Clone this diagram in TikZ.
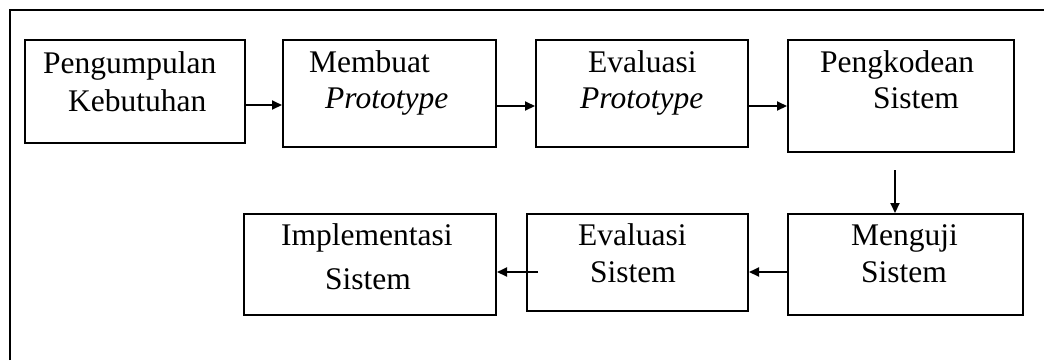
\documentclass[tikz,border=0pt]{standalone}
\usepackage{fontspec}
\setmainfont{Liberation Serif}
\usetikzlibrary{arrows.meta}

\tikzset{
  stepbox/.style={draw, line width=2pt, inner sep=0pt},
  txt/.style={anchor=base west, inner sep=0pt, font=\fontsize{31.5}{36}\selectfont},
  flow/.style={line width=2pt, -{Triangle[length=10pt,width=9pt]}},
}

\begin{document}
% one unit = 1pt, y grows downward
\begin{tikzpicture}[x=1pt, y=-1pt]
\useasboundingbox (0,0) rectangle (1044,360);

% outer frame (left and top edges)
\draw[line width=2pt] (10,360) |- (1044,10);

% boxes
\node[stepbox, minimum width=220pt, minimum height=103pt] (b1) at (135,91.5) {};
\node[stepbox, minimum width=213pt, minimum height=107pt] (b2) at (389.5,93.5) {};
\node[stepbox, minimum width=212pt, minimum height=107pt] (b3) at (642,93.5) {};
\node[stepbox, minimum width=226pt, minimum height=112pt] (b4) at (901,96) {};
\node[stepbox, minimum width=235pt, minimum height=101pt] (b5) at (905.5,264.5) {};
\node[stepbox, minimum width=221pt, minimum height=97pt] (b6) at (637.5,262.5) {};
\node[stepbox, minimum width=252pt, minimum height=101pt] (b7) at (370,264.5) {};

% labels
\node[txt] (t1a) at (43,73) {Pengumpulan};
\node[txt] (t1b) at (68,111) {Kebutuhan};
\node[txt] (t2a) at (309,72) {Membuat};
\node[txt] (t2b) at (325,108) {\itshape Prototype};
\node[txt] (t3a) at (588,72) {Evaluasi};
\node[txt] (t3b) at (580,108) {\itshape Prototype};
\node[txt] (t4a) at (820,72) {Pengkodean};
\node[txt] (t4b) at (873,108) {Sistem};
\node[txt] (t5a) at (851,245) {Menguji};
\node[txt] (t5b) at (861,282) {Sistem};
\node[txt] (t6a) at (578,245) {Evaluasi};
\node[txt] (t6b) at (590,282) {Sistem};
\node[txt] (t7a) at (281,245) {Implementasi};
\node[txt] (t7b) at (325,289) {Sistem};

% connectors
\draw[flow] (b1.east |- 0,105) -- (b2.west |- 0,105);
\draw[flow] (b2.east |- 0,106) -- (b3.west |- 0,106);
\draw[flow] (b3.east |- 0,106) -- (b4.west |- 0,106);
\coordinate (d0) at (895,170);
\draw[flow] (d0) -- (d0 |- b5.north);
\draw[flow] (b5.west |- 0,272) -- (b6.east |- 0,272);
\coordinate (l0) at (538,272);
\draw[flow] (l0) -- (l0 -| b7.east);
\end{tikzpicture}
\end{document}
